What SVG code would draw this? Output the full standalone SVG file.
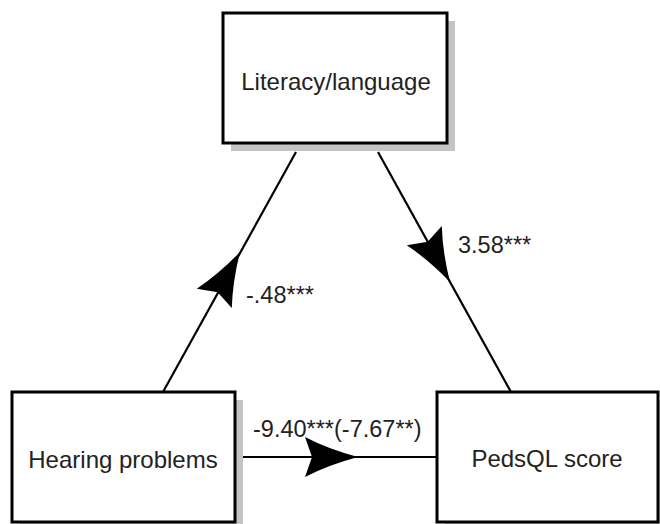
<svg xmlns="http://www.w3.org/2000/svg" xmlns:xlink="http://www.w3.org/1999/xlink" width="660" height="524" viewBox="0 0 660 524">
<style>
.box{fill:#fff;stroke:#000;stroke-width:3}
.shadow{fill:#c4c4c4}
.lbl{font-family:"Liberation Sans",Arial,sans-serif;font-size:24px;fill:#222;text-anchor:middle}
.num{font-family:"Liberation Sans",Arial,sans-serif;font-size:23.5px;fill:#222}
.ln{stroke:#000;stroke-width:2.2;fill:none}
.ah{fill:#000}
</style>
<defs>
<path id="ah" class="ah" d="M0,0 Q-30,-8 -53,-20 L-46,0 L-53,20 Q-30,8 0,0 Z"/>
</defs>
<rect width="660" height="524" fill="#fff"/>
<g id="connectors">
<line class="ln" x1="163" y1="392" x2="296" y2="152"/>
<line class="ln" x1="378" y1="152" x2="511" y2="392"/>
<line class="ln" x1="240" y1="457" x2="437" y2="457"/>
<use xlink:href="#ah" transform="translate(240,252) rotate(-61)"/>
<use xlink:href="#ah" transform="translate(450,282) rotate(61)"/>
<use xlink:href="#ah" transform="translate(358,457)"/>
<text class="num" x="246" y="303">-.48***</text>
<text class="num" x="458" y="253">3.58***</text>
<text class="num" x="253" y="437">-9.40***(-7.67**)</text>
</g>
<g id="literacy">
<rect class="shadow" x="231" y="21" width="224" height="130"/>
<rect class="box" x="223" y="13" width="224" height="130"/>
<text class="lbl" x="336" y="90">Literacy/language</text>
</g>
<g id="hearing">
<rect class="shadow" x="20" y="400" width="223" height="130"/>
<rect class="box" x="12" y="392" width="223" height="130"/>
<text class="lbl" x="123" y="468">Hearing problems</text>
</g>
<g id="pedsql">
<rect class="shadow" x="445" y="400" width="221" height="130"/>
<rect class="box" x="437" y="392" width="221" height="130"/>
<text class="lbl" x="547" y="467">PedsQL score</text>
</g>
</svg>
